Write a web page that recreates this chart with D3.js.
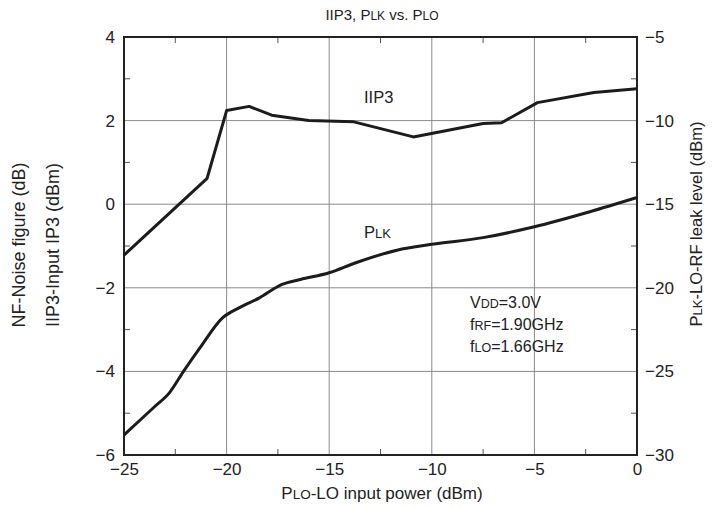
<!DOCTYPE html>
<html><head><meta charset="utf-8">
<script src="https://cdn.jsdelivr.net/npm/d3@7"></script>
<style>body{margin:0;background:#fff}svg{display:block}text{font-family:"Liberation Sans",Arial,sans-serif;fill:#222}</style>
</head><body>
<svg id="c" width="724" height="508"></svg>
<script>
const xTicks = [-25,-20,-15,-10,-5,0];
const yLeftTicks = [-6,-4,-2,0,2,4];
const yRightTicks = [-30,-25,-20,-15,-10,-5];
const iip3X = [-25,-20.95,-20,-18.9,-17.8,-16,-13.8,-10.9,-7.5,-6.6,-4.85,-2.1,0];
const iip3Y = [-1.22,0.62,2.24,2.34,2.13,2.0,1.97,1.61,1.93,1.95,2.43,2.67,2.76];
const plkX = [-25,-23.5,-22.8,-22.1,-21.3,-20.2,-19.4,-18.4,-17.3,-16.4,-15,-13.7,-11.7,-10,-7.5,-5,-2.3,0];
const plkY = [-28.8,-27.1,-26.3,-25.0,-23.6,-21.8,-21.2,-20.6,-19.8,-19.5,-19.1,-18.5,-17.75,-17.4,-17.0,-16.35,-15.45,-14.6];

const svg = d3.select("#c");
const L=124,R=637,T=37,B=455;
const x = d3.scaleLinear().domain([-25,0]).range([L,R]);
const y = d3.scaleLinear().domain([-6,4]).range([B,T]);
const y2 = d3.scaleLinear().domain([-30,-5]).range([B,T]);

const g = svg.append("g");
xTicks.slice(1,-1).forEach(v=>g.append("line").attr("x1",x(v)).attr("x2",x(v)).attr("y1",T).attr("y2",B).attr("stroke","#8a8a8a").attr("stroke-width",1));
yLeftTicks.slice(1,-1).forEach(v=>g.append("line").attr("x1",L).attr("x2",R).attr("y1",y(v)).attr("y2",y(v)).attr("stroke","#8a8a8a").attr("stroke-width",1));
d3.range(-22.5,0,5).forEach(v=>{
  g.append("line").attr("x1",x(v)).attr("x2",x(v)).attr("y1",B).attr("y2",B-6).attr("stroke","#555");
  g.append("line").attr("x1",x(v)).attr("x2",x(v)).attr("y1",T).attr("y2",T+6).attr("stroke","#555");
});
d3.range(-5,4,2).forEach(v=>{
  g.append("line").attr("x1",L).attr("x2",L+6).attr("y1",y(v)).attr("y2",y(v)).attr("stroke","#555");
  g.append("line").attr("x1",R).attr("x2",R-6).attr("y1",y(v)).attr("y2",y(v)).attr("stroke","#555");
});

const fs=17;
const minus = d=> (d<0? "\u2212"+Math.abs(d): ""+d);
const ax = svg.append("g").attr("transform",`translate(0,${B})`).call(d3.axisBottom(x).tickValues(xTicks).tickFormat(minus).tickSize(0).tickPadding(8));
const ay = svg.append("g").attr("transform",`translate(${L},0)`).call(d3.axisLeft(y).tickValues(yLeftTicks).tickFormat(minus).tickSize(0).tickPadding(9));
const ay2 = svg.append("g").attr("transform",`translate(${R},0)`).call(d3.axisRight(y2).tickValues(yRightTicks).tickFormat(minus).tickSize(0).tickPadding(8));
[ax,ay,ay2].forEach(a=>{a.select(".domain").remove();a.selectAll("text").attr("font-size",fs).attr("font-family","Liberation Sans, Arial, sans-serif").attr("fill","#222");});

svg.append("rect").attr("x",L).attr("y",T).attr("width",R-L).attr("height",B-T).attr("fill","none").attr("stroke","#222").attr("stroke-width",2);

const l1 = d3.line().x(d=>x(d[0])).y(d=>y(d[1]));
svg.append("path").datum(iip3X.map((v,i)=>[v,iip3Y[i]])).attr("d",l1).attr("fill","none").attr("stroke","#1c1c1c").attr("stroke-width",3).attr("stroke-linejoin","round");
const l2 = d3.line().x(d=>x(d[0])).y(d=>y2(d[1])).curve(d3.curveMonotoneX);
svg.append("path").datum(plkX.map((v,i)=>[v,plkY[i]])).attr("d",l2).attr("fill","none").attr("stroke","#1c1c1c").attr("stroke-width",3);

function sub(t, parts, bigSize, smallSize){
  parts.forEach(p=>t.append("tspan").attr("font-size",p[1]?smallSize:bigSize).text(p[0]));
  return t;
}
sub(svg.append("text").attr("x",382).attr("y",20).attr("text-anchor","middle"),
  [["IIP3, P",0],["LK",1],[" vs. P",0],["LO",1]],15,12);
svg.append("text").attr("x",364).attr("y",103).attr("font-size",16.5).text("IIP3");
sub(svg.append("text").attr("x",364).attr("y",238),[["P",0],["LK",1]],16.5,13);
sub(svg.append("text").attr("x",470).attr("y",308),[["V",0],["DD",1],["=3.0V",0]],16,12.5);
sub(svg.append("text").attr("x",470).attr("y",330),[["f",0],["RF",1],["=1.90GHz",0]],16,12.5);
sub(svg.append("text").attr("x",470).attr("y",352),[["f",0],["LO",1],["=1.66GHz",0]],16,12.5);
sub(svg.append("text").attr("x",382).attr("y",499).attr("text-anchor","middle"),[["P",0],["LO",1],["-LO input power (dBm)",0]],17,13.5);
svg.append("text").attr("transform","translate(25,245) rotate(-90)").attr("text-anchor","middle").attr("font-size",18).text("NF-Noise figure (dB)");
svg.append("text").attr("transform","translate(59,245) rotate(-90)").attr("text-anchor","middle").attr("font-size",18).text("IIP3-Input IP3 (dBm)");
sub(svg.append("text").attr("transform","translate(702,224) rotate(-90)").attr("text-anchor","middle"),[["P",0],["LK",1],["-LO-RF leak level (dBm)",0]],16.5,13);
</script></body></html>
